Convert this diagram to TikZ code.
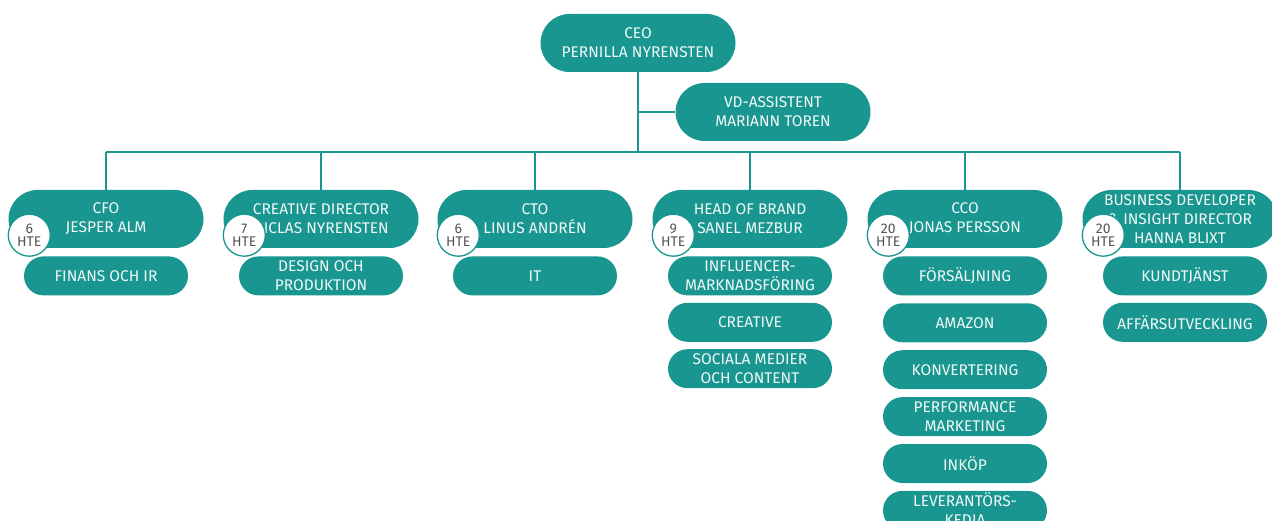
\documentclass[tikz,border=0pt]{standalone}
\usepackage{fontspec}
\setmainfont{Fira Sans}
\usetikzlibrary{positioning}
\definecolor{orgteal}{RGB}{24,150,143}
\definecolor{htegrey}{RGB}{85,85,85}
\tikzset{
	unit/.style={fill=orgteal, rounded corners=29pt, minimum width=195pt, minimum height=58pt, inner sep=0pt, align=center, text=white!94!orgteal, font=\fontsize{15.5}{19}\selectfont},
	dept/.style={fill=orgteal, rounded corners=19.5pt, minimum width=164pt, minimum height=39pt, inner sep=0pt, align=center, text=white!94!orgteal, font=\fontsize{15.5}{19}\selectfont},
	hte/.style={circle, draw=orgteal, line width=1.3pt, fill=white, minimum size=42pt, inner sep=0pt, align=center, text=htegrey, font=\fontsize{14}{13}\selectfont},
	link/.style={orgteal, line width=2pt}
}
\begin{document}
\begin{tikzpicture}[x=1pt, y=-1pt]
		\useasboundingbox (0,0) rectangle (1272,521);
		\coordinate (bus) at (0,152);
		% top
		\node[unit] (ceo) at (638,43) {CEO\\PERNILLA NYRENSTEN};
		\node[unit] (vd) at (773,112) {VD-ASSISTENT\\MARIANN TOREN};
		\node[unit] (cfo) at (106,219) {CFO\\JESPER ALM};
		\node[unit] (creative) at (321,219) {CREATIVE DIRECTOR\\NICLAS NYRENSTEN};
		\node[unit] (cto) at (535,219) {CTO\\LINUS ANDRÉN};
		\node[unit] (brand) at (750,219) {HEAD OF BRAND\\SANEL MEZBUR};
		\node[unit] (cco) at (965,219) {CCO\\JONAS PERSSON};
		\node[unit] (bd) at (1180,219) {BUSINESS DEVELOPER\\\& INSIGHT DIRECTOR\\HANNA BLIXT};
		\draw[link] (ceo.south) -- (ceo.south |- bus);
		\draw[link] (ceo.south |- vd.west) -- (vd.west);
		\draw[link] (cfo.north |- bus) -- (bd.north |- bus);
		\foreach \n in {cfo,creative,cto,brand,cco,bd}
			\draw[link] (\n.north |- bus) -- (\n.north);
		% departments
		\node[dept, below=8pt of cfo] (finans) {FINANS OCH IR};
		\node[dept, below=8pt of creative] (design) {DESIGN OCH\\PRODUKTION};
		\node[dept, below=8pt of cto] (it) {IT};
		\node[dept, below=8pt of brand] (influencer) {INFLUENCER-\\MARKNADSFÖRING};
		\node[dept, below=7pt of influencer] (creativeteam) {CREATIVE};
		\node[dept, below=7pt of creativeteam] (sociala) {SOCIALA MEDIER\\OCH CONTENT};
		\node[dept, below=8pt of cco] (sales) {FÖRSÄLJNING};
		\node[dept, below=7.5pt of sales] (amazon) {AMAZON};
		\node[dept, below=7.5pt of amazon] (konv) {KONVERTERING};
		\node[dept, below=7.5pt of konv] (perf) {PERFORMANCE\\MARKETING};
		\node[dept, below=7.5pt of perf] (inkop) {INKÖP};
		\node[dept, below=7.5pt of inkop] (lev) {LEVERANTÖRS-\\KEDJA};
		\node[dept, below=8pt of bd, xshift=5pt] (kund) {KUNDTJÄNST};
		\node[dept, below=7pt of kund] (affar) {AFFÄRSUTVECKLING};
		% headcount
		\node[hte] (cfohte) at ([xshift=21pt, yshift=13pt]cfo.south west) {6\\HTE};
		\node[hte] (creativehte) at ([xshift=21pt, yshift=13pt]creative.south west) {7\\HTE};
		\node[hte] (ctohte) at ([xshift=21pt, yshift=13pt]cto.south west) {6\\HTE};
		\node[hte] (brandhte) at ([xshift=21pt, yshift=13pt]brand.south west) {9\\HTE};
		\node[hte] (ccohte) at ([xshift=21pt, yshift=13pt]cco.south west) {20\\HTE};
		\node[hte] (bdhte) at ([xshift=21pt, yshift=13pt]bd.south west) {20\\HTE};
	\end{tikzpicture}
\end{document}
